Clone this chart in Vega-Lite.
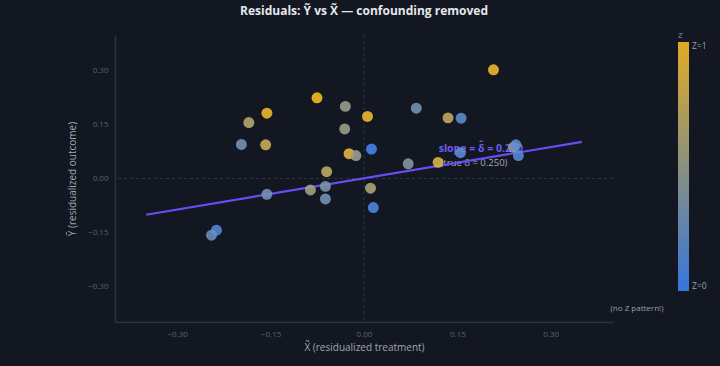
{
  "$schema": "https://vega.github.io/schema/vega-lite/v6.json",
  "autosize": "none",
  "width": 498,
  "height": 287,
  "padding": {"left": 115, "top": 35, "right": 107, "bottom": 44},
  "background": "#131722",
  "config": {
    "view": {"stroke": null},
    "font": "Open Sans",
    "axis": {
      "domainColor": "#2b3140",
      "domainWidth": 1.5,
      "grid": false,
      "ticks": false,
      "labelColor": "#5b6270",
      "labelFontSize": 8,
      "titleColor": "#a0a6b2",
      "titleFontSize": 10,
      "titleFontWeight": "normal"
    }
  },
  "title": {
    "text": "Residuals: Ỹ vs X̃ — confounding removed",
    "fontSize": 12,
    "fontWeight": "bold",
    "color": "#e5e7eb",
    "anchor": "middle",
    "offset": 14
  },
  "datasets": {
    "pts": [
      {"x": -0.0755, "y": 0.225, "z": 1.0},
      {"x": -0.030, "y": 0.201, "z": 0.5},
      {"x": 0.0056, "y": 0.173, "z": 0.95},
      {"x": -0.156, "y": 0.182, "z": 0.95},
      {"x": -0.185, "y": 0.156, "z": 0.65},
      {"x": -0.031, "y": 0.138, "z": 0.5},
      {"x": -0.197, "y": 0.095, "z": 0.3},
      {"x": -0.158, "y": 0.094, "z": 0.75},
      {"x": 0.012, "y": 0.082, "z": 0.05},
      {"x": -0.024, "y": 0.069, "z": 0.9},
      {"x": -0.013, "y": 0.064, "z": 0.5},
      {"x": -0.060, "y": 0.019, "z": 0.7},
      {"x": 0.0105, "y": -0.027, "z": 0.6},
      {"x": -0.086, "y": -0.032, "z": 0.55},
      {"x": -0.062, "y": -0.022, "z": 0.35},
      {"x": -0.062, "y": -0.057, "z": 0.3},
      {"x": -0.156, "y": -0.044, "z": 0.3},
      {"x": 0.015, "y": -0.081, "z": 0.1},
      {"x": -0.237, "y": -0.144, "z": 0.15},
      {"x": -0.245, "y": -0.158, "z": 0.25},
      {"x": 0.208, "y": 0.303, "z": 0.95},
      {"x": 0.084, "y": 0.196, "z": 0.3},
      {"x": 0.135, "y": 0.169, "z": 0.7},
      {"x": 0.156, "y": 0.168, "z": 0.2},
      {"x": 0.071, "y": 0.041, "z": 0.4},
      {"x": 0.119, "y": 0.045, "z": 0.85},
      {"x": 0.155, "y": 0.072, "z": 0.2},
      {"x": 0.240, "y": 0.087, "z": 0.45},
      {"x": 0.244, "y": 0.094, "z": 0.2},
      {"x": 0.248, "y": 0.064, "z": 0.15}
    ],
    "fit": [
      {"x": -0.35, "y": -0.101},
      {"x": 0.35, "y": 0.102}
    ],
    "zero": [{"v": 0}],
    "notes": [
      {"x": 0.12, "y": 0.083, "t": "slope = δ̂ = 0.290", "kind": "slope"},
      {"x": 0.123, "y": 0.044, "t": "(true δ = 0.250)", "kind": "true"}
    ],
    "foot": [{"x": 0.396, "y": -0.364, "t": "(no Z pattern!)"}]
  },
  "layer": [
    {
      "data": {"name": "zero"},
      "mark": {"type": "rule", "color": "#2e3442", "strokeDash": [3, 3], "strokeWidth": 1},
      "encoding": {"x": {"field": "v", "type": "quantitative", "scale": {"domain": [-0.4, 0.4]}}}
    },
    {
      "data": {"name": "zero"},
      "mark": {"type": "rule", "color": "#2e3442", "strokeDash": [3, 3], "strokeWidth": 1},
      "encoding": {"y": {"field": "v", "type": "quantitative", "scale": {"domain": [-0.4, 0.4]}}}
    },
    {
      "data": {"name": "notes"},
      "transform": [{"filter": "datum.kind == 'slope'"}],
      "mark": {"type": "text", "align": "left", "baseline": "middle", "fontSize": 10.5, "fontWeight": "bold", "color": "#6e5cf0"},
      "encoding": {
        "x": {"field": "x", "type": "quantitative"},
        "y": {"field": "y", "type": "quantitative"},
        "text": {"field": "t"}
      }
    },
    {
      "data": {"name": "notes"},
      "transform": [{"filter": "datum.kind == 'true'"}],
      "mark": {"type": "text", "align": "left", "baseline": "middle", "fontSize": 9.5, "color": "#a3a8b3"},
      "encoding": {
        "x": {"field": "x", "type": "quantitative"},
        "y": {"field": "y", "type": "quantitative"},
        "text": {"field": "t"}
      }
    },
    {
      "data": {"name": "fit"},
      "mark": {"type": "line", "color": "#6a4cf5", "strokeWidth": 2.2},
      "encoding": {
        "x": {"field": "x", "type": "quantitative"},
        "y": {"field": "y", "type": "quantitative"}
      }
    },
    {
      "data": {"name": "pts"},
      "mark": {"type": "circle", "size": 120, "opacity": 0.88},
      "encoding": {
        "x": {
          "field": "x", "type": "quantitative",
          "scale": {"domain": [-0.4, 0.4], "nice": false, "zero": false},
          "axis": {"values": [-0.3, -0.15, 0, 0.15, 0.3], "format": ".2f", "title": "X̃ (residualized treatment)", "labelPadding": 8, "titlePadding": 4}
        },
        "y": {
          "field": "y", "type": "quantitative",
          "scale": {"domain": [-0.4, 0.4], "nice": false, "zero": false},
          "axis": {"values": [-0.3, -0.15, 0, 0.15, 0.3], "format": ".2f", "title": "Ỹ (residualized outcome)", "labelPadding": 7, "titlePadding": 10}
        },
        "color": {
          "field": "z", "type": "quantitative",
          "scale": {"domain": [0, 1], "range": ["#3b82f6", "#fbbf24"], "interpolate": "rgb"},
          "legend": {
            "orient": "none",
            "legendX": 563,
            "legendY": -3,
            "title": "Z",
            "titleFontSize": 8,
            "titleColor": "#8a909c",
            "titleFontWeight": "normal",
            "titleAnchor": "start",
            "titlePadding": 2,
            "gradientLength": 249,
            "gradientThickness": 11,
            "gradientStrokeWidth": 0,
            "values": [0, 1],
            "labelExpr": "datum.value == 0 ? 'Z=0' : 'Z=1'",
            "labelColor": "#9aa0ab",
            "labelFontSize": 8.5,
            "labelOffset": 3
          }
        }
      }
    },
    {
      "data": {"name": "foot"},
      "mark": {"type": "text", "align": "left", "baseline": "middle", "fontSize": 8, "color": "#9aa0ab", "clip": false},
      "encoding": {
        "x": {"field": "x", "type": "quantitative"},
        "y": {"field": "y", "type": "quantitative"},
        "text": {"field": "t"}
      }
    }
  ]
}
